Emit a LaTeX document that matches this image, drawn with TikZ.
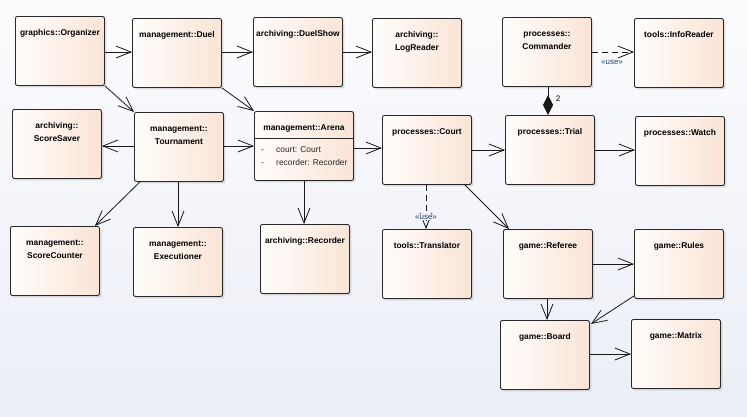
\documentclass[tikz,border=0pt]{standalone}
\usepackage{fontspec}
\setmainfont{Liberation Sans}
\usetikzlibrary{arrows.meta,shadows,calc}

\definecolor{boxL}{RGB}{255,253,251}
\definecolor{boxR}{RGB}{250,228,214}
\definecolor{bgTop}{RGB}{252,252,254}
\definecolor{bgBot}{RGB}{235,238,246}
\definecolor{bgMid}{RGB}{243,244,249}
\definecolor{edge}{RGB}{40,40,40}
\definecolor{stereo}{RGB}{40,60,110}

% class box content: fixed-size, text centred at the top
\newcommand\clsname[2][89pt]{%
  \begin{minipage}[t][69pt][t]{#1}\centering\baselineskip=12.5pt
  \rule{0pt}{19.5pt}#2\end{minipage}}

\tikzset{
  cls/.style={draw=edge, line width=0.9pt, rounded corners=2pt,
    left color=boxL, right color=boxR, inner sep=0pt, anchor=north west,
    font=\bfseries\fontsize{8.4}{10}\selectfont,
    drop shadow={shadow xshift=2pt, shadow yshift=-2pt, opacity=0.25, fill=gray}},
  dep/.style={draw=black!90, line width=0.8pt,
    -{Straight Barb[length=15pt,width=12pt,line width=0.8pt]}},
  usedep/.style={dep, dash pattern=on 6pt off 4pt},
  comp/.style={draw=black!90, line width=0.8pt,
    {Diamond[length=20pt,width=10pt]}-},
  stereolbl/.style={font=\fontsize{8}{9}\selectfont, text=stereo, inner sep=1pt},
  attr/.style={font=\fontsize{8.4}{10}\selectfont, text=black!85, inner sep=0pt, anchor=base west},
}

\begin{document}
\begin{tikzpicture}[x=1pt,y=-1pt]
  \useasboundingbox (0,0) rectangle (747,416);
  \shade[top color=bgTop, bottom color=bgBot] (0,0) rectangle (747,416);

  % top row
  \node[cls] (org)   at (15,16)  {\clsname{graphics::Organizer}};
  \node[cls] (duel)  at (132,18) {\clsname{management::Duel}};
  \node[cls] (dshow) at (253,17) {\clsname{archiving::DuelShow}};
  \node[cls] (logr)  at (372,18) {\clsname{archiving::\\LogReader}};
  \node[cls] (cmd)   at (502,17) {\clsname{processes::\\Commander}};
  \node[cls] (info)  at (634,18) {\clsname{tools::InfoReader}};

  % second row
  \node[cls] (ssaver) at (12,109)  {\clsname{archiving::\\ScoreSaver}};
  \node[cls] (tour)   at (134,112) {\clsname{management::\\Tournament}};
  \node[cls] (arena)  at (254,111) {\clsname[99pt]{management::Arena}};
  \node[cls] (court)  at (382,115) {\clsname{processes::Court}};
  \node[cls] (trial)  at (505,115) {\clsname{processes::Trial}};
  \node[cls] (watch)  at (635,116) {\clsname{processes::Watch}};

  % Arena attribute compartment
  \draw[draw=edge, line width=0.8pt] ($(arena.north west)+(0,27)$) -- ($(arena.north east)+(0,27)$);
  \node[attr] (a1d) at (261,152) {-};
  \node[attr] (a1)  at (276,152) {court: Court};
  \node[attr] (a2d) at (261,165) {-};
  \node[attr] (a2)  at (276,165) {recorder: Recorder};

  % third row
  \node[cls] (scount) at (10,226)  {\clsname{management::\\ScoreCounter}};
  \node[cls] (exec)   at (133,227) {\clsname{management::\\Executioner}};
  \node[cls] (rec)    at (260,224) {\clsname{archiving::Recorder}};
  \node[cls] (trans)  at (382,229) {\clsname{tools::Translator}};
  \node[cls] (ref)    at (503,229) {\clsname{game::Referee}};
  \node[cls] (rules)  at (634,229) {\clsname{game::Rules}};

  % bottom row
  \node[cls] (board)  at (500,320) {\clsname{game::Board}};
  \node[cls] (matrix) at (631,319) {\clsname{game::Matrix}};

  % associations
  \draw[dep] (org.east |- 0,52) -- (duel.west |- 0,52);
  \draw[dep] (duel.east |- 0,52) -- (dshow.west |- 0,52);
  \draw[dep] (dshow.east |- 0,52) -- (logr.west |- 0,52);
  \draw[dep] (org.south east) -- (tour.north west);
  \draw[dep] (duel.south east) -- (arena.north west);
  \draw[dep] (tour.west |- 0,146) -- (ssaver.east |- 0,146);
  \draw[dep] (tour.east |- 0,146) -- (arena.west |- 0,146);
  \draw[dep] ($(tour.south west)+(6,0)$) -- ($(scount.north east)+(-5,0)$);
  \draw[dep] (tour.south -| 178,0) -- (exec.north -| 178,0);
  \draw[dep] (arena.east |- 0,148) -- (court.west |- 0,148);
  \draw[dep] (arena.south -| 304,0) -- (rec.north -| 304,0);
  \draw[dep] (court.east |- 0,150) -- (trial.west |- 0,150);
  \draw[dep] ($(court.south east)+(-7,0)$) -- ($(ref.north west)+(6,0)$);
  \draw[dep] (trial.east |- 0,150) -- (watch.west |- 0,150);
  \draw[dep] (ref.east |- 0,264) -- (rules.west |- 0,264);
  \draw[dep] (ref.south -| 547,0) -- (board.north -| 547,0);
  \draw[dep] ($(rules.south west)+(0,-3)$) -- ($(board.north east)+(1,4)$);
  \draw[dep] (board.east |- 0,354) -- (matrix.west |- 0,354);

  % usage dependencies
  \draw[usedep] (court.south -| 426,0) -- (trans.north -| 426,0);
  \node[stereolbl, fill=bgMid] (use1) at (426,217) {«use»};
  \draw[usedep] (cmd.east |- 0,52) -- (info.west |- 0,52);
  \node[stereolbl] (use2) at (612,62) {«use»};

  % composition
  \draw[comp] (trial.north -| 548,0) -- (cmd.south -| 548,0);
  \node[font=\fontsize{8}{9}\selectfont, inner sep=0pt] (mult) at (558,99) {2};
\end{tikzpicture}
\end{document}
